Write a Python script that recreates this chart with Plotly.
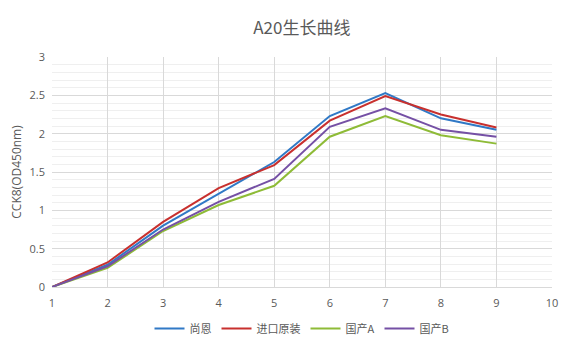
import plotly.graph_objects as go

days = [1, 2, 3, 4, 5, 6, 7, 8, 9]
series_names = ["尚恩", "进口原装", "国产A", "国产B"]
shangen = [0, 0.29, 0.80, 1.22, 1.63, 2.23, 2.53, 2.20, 2.05]
jinkou = [0, 0.32, 0.85, 1.29, 1.59, 2.17, 2.49, 2.25, 2.08]
guochanA = [0, 0.25, 0.73, 1.07, 1.32, 1.96, 2.23, 1.98, 1.87]
guochanB = [0, 0.27, 0.75, 1.11, 1.41, 2.09, 2.33, 2.05, 1.96]
colors = ["#3079c6", "#c8302e", "#8ebb37", "#7550a5"]

fig = go.Figure()
for name, vals, c in zip(series_names, [shangen, jinkou, guochanA, guochanB], colors):
    fig.add_trace(go.Scatter(x=days, y=vals, mode="lines", name=name,
                             line=dict(color=c, width=2)))

font_fam = "Open Sans, Noto Sans CJK SC, sans-serif"
fig.update_layout(
    width=575, height=350,
    margin=dict(l=52, r=23, t=57, b=63, autoexpand=False),
    paper_bgcolor="white", plot_bgcolor="white",
    font=dict(family=font_fam, color="#595959", size=11),
    title=dict(text="A20生长曲线", x=0.525, xanchor="center", y=0.92, yanchor="middle",
               font=dict(size=17, color="#595959", family="Noto Sans CJK SC, sans-serif")),
    showlegend=True,
    legend=dict(orientation="h", x=0.5, xanchor="center", yref="container", y=0.02, yanchor="bottom",
                font=dict(size=11, color="#595959", family="Noto Sans CJK SC, sans-serif"),
                itemwidth=30, tracegroupgap=0),
    xaxis=dict(range=[1, 10], dtick=1, tick0=1, showgrid=True, gridcolor="#d9d9d9",
               gridwidth=1, zeroline=False, showline=True, linecolor="#d9d9d9", linewidth=1,
               ticks="", ticklabelstandoff=6, tickfont=dict(size=11, color="#595959")),
    yaxis=dict(range=[0, 3], dtick=0.5, showgrid=True, gridcolor="#d9d9d9", gridwidth=1,
               zeroline=False, showline=False, ticks="", ticklabelstandoff=6,
               tickfont=dict(size=11, color="#595959"),
               title=dict(text="CCK8(OD450nm)", font=dict(size=12, color="#595959"), standoff=5),
               minor=dict(dtick=0.1, showgrid=True, gridcolor="#efefef", gridwidth=1)),
)

fig.write_html("out.html")
